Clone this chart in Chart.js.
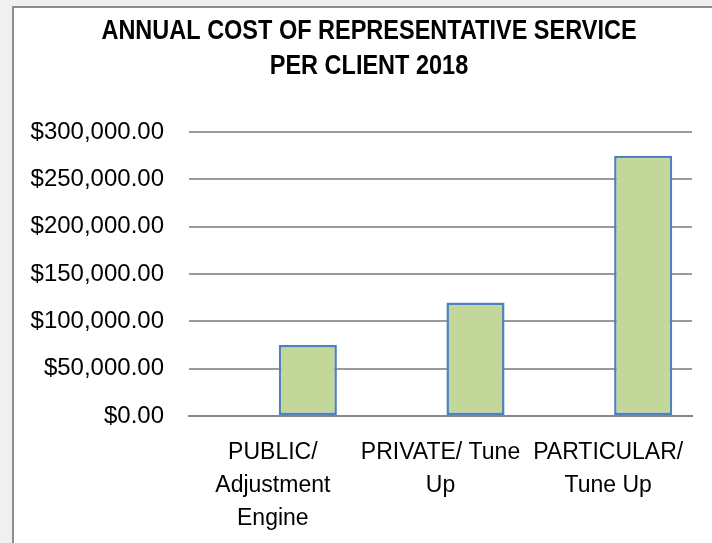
<!DOCTYPE html>
<html lang="en">
<head>
    <meta charset="UTF-8">
    <title>annual cost per client 2018</title>
    <script src="https://cdn.jsdelivr.net/npm/chart.js"></script>
    <style>
        body { margin: 0; background: #f0f0f0; }
        #box {
            position: absolute; left: 12px; top: 6px;
            width: 698px; height: 537px;
            background: #fff;
            border-left: 2px solid #8c8c8c;
            border-top: 2px solid #8c8c8c;
        }
    </style>
</head>
<body>

<div id="box"><canvas id="myChart" width="698" height="535"></canvas></div>

<script>
const categorias = [
    ["PUBLIC/", "Adjustment", "Engine"],
    ["PRIVATE/ Tune", "Up"],
    ["PARTICULAR/", "Tune Up"]
];
const serieVacia = [null, null, null];
const costos = [75000, 120000, 275000];
const titulo = ["ANNUAL COST OF REPRESENTATIVE SERVICE", "PER CLIENT 2018"];

const fuente = "'Liberation Sans', Arial, sans-serif";

// titulo en fuente "estrecha": no hay Arial Narrow, se comprime a mano
const tituloEstrecho = {
    id: "tituloEstrecho",
    afterDraw(chart) {
        const c = chart.ctx;
        c.save();
        c.fillStyle = "#000";
        c.font = "bold 27px " + fuente;
        c.textAlign = "center";
        c.textBaseline = "middle";
        titulo.forEach((linea, i) => {
            c.save();
            c.translate(355, 23.5 + i * 35.3);
            c.scale(0.87, 1);
            c.fillText(linea, 0, 0);
            c.restore();
        });
        c.restore();
    }
};

const ctx = document.getElementById("myChart").getContext("2d");
const chart = new Chart(ctx, {
    type: "bar",
    data: {
        labels: categorias,
        datasets: [
            { label: "", data: serieVacia },
            {
                label: "cost",
                data: costos,
                backgroundColor: "#c4d79b",
                borderColor: "#4f81bd",
                borderWidth: 2.5,
                borderSkipped: false
            }
        ]
    },
    plugins: [tituloEstrecho],
    options: {
        responsive: false,
        animation: false,
        categoryPercentage: 0.835,
        barPercentage: 0.83,
        layout: { padding: { left: 0, right: 20, top: 124, bottom: 0 } },
        plugins: {
            legend: { display: false },
            tooltip: { enabled: false },
            title: { display: false }
        },
        scales: {
            x: {
                grid: { display: false, drawTicks: false },
                border: { display: true, color: "#868686", width: 2 },
                ticks: {
                    color: "#000",
                    padding: 20,
                    maxRotation: 0,
                    autoSkip: false,
                    font: { family: fuente, size: 23, lineHeight: 1.43 }
                },
                afterFit: s => { s.height = 127; }
            },
            y: {
                min: 0,
                max: 300000,
                grid: { color: "#9a9a9a", lineWidth: 2, drawTicks: false },
                border: { display: false },
                ticks: {
                    stepSize: 50000,
                    color: "#000",
                    padding: 25,
                    font: { family: fuente, size: 24 },
                    callback: v => "$" + v.toLocaleString("en-US", { minimumFractionDigits: 2, maximumFractionDigits: 2 })
                },
                afterFit: s => { s.width = 175; }
            }
        }
    }
});
</script>

</body>
</html>
